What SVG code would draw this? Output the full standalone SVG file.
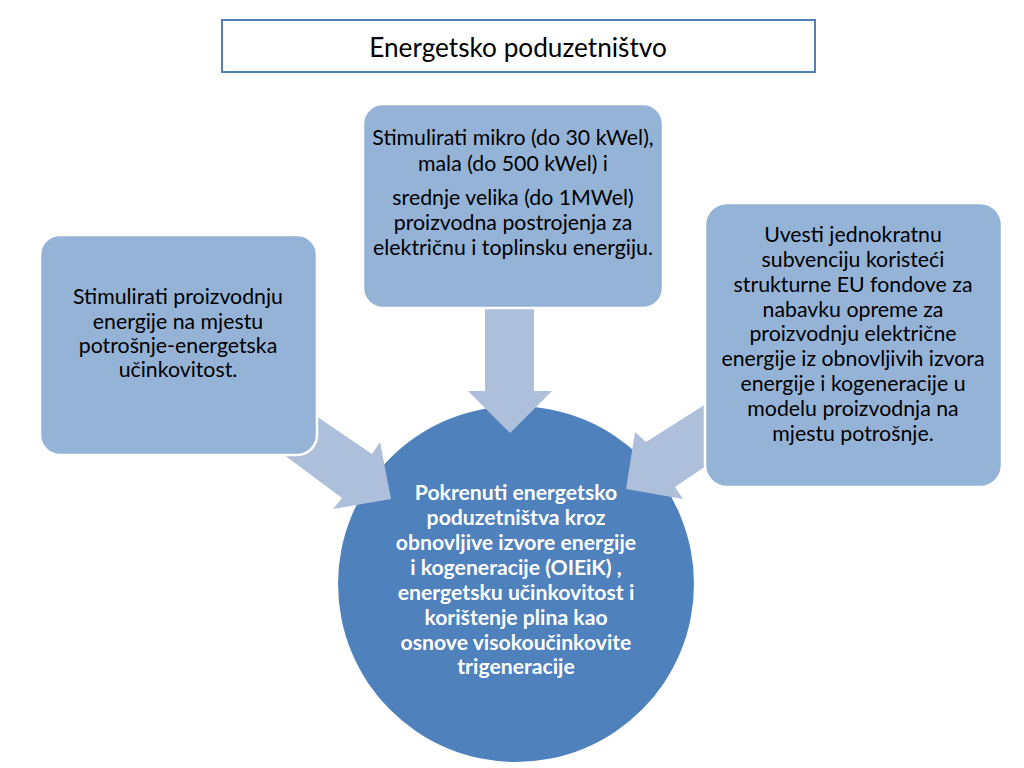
<svg xmlns="http://www.w3.org/2000/svg" width="1024" height="768" viewBox="0 0 1024 768">
<style>
.box{fill:#95B3D7;stroke:#FFFFFF;stroke-width:2.5}
.arr{fill:#AEBFDC}
.t{font-family:Lato,"Liberation Sans",sans-serif;font-size:21.3px;fill:#000;text-anchor:middle}
.c{font-family:Lato,"Liberation Sans",sans-serif;font-size:21.2px;font-weight:bold;fill:#FFFFFF;text-anchor:middle}
</style>
<rect width="1024" height="768" fill="#FFFFFF"/>
<g id="title">
<rect x="222" y="20" width="593" height="52" fill="#FFFFFF" stroke="#4F81BD" stroke-width="2"/>
<text x="518" y="57" font-family="Lato,'Liberation Sans',sans-serif" font-size="26.2" text-anchor="middle" fill="#000">Energetsko poduzetništvo</text>
</g>
<g id="center">
<circle cx="516" cy="584" r="178" fill="#4F81BD"/>
<text class="c" x="516" y="500">Pokrenuti energetsko</text>
<text class="c" x="516" y="525">poduzetništva kroz</text>
<text class="c" x="516" y="550">obnovljive izvore energije</text>
<text class="c" x="516" y="575">i kogeneracije (OIEiK) ,</text>
<text class="c" x="516" y="600">energetsku učinkovitost i</text>
<text class="c" x="516" y="625">korištenje plina kao</text>
<text class="c" x="516" y="650">osnove visokoučinkovite</text>
<text class="c" x="516" y="674">trigeneracije</text>
</g>
<g id="connectors">
<polygon class="arr" points="485,305 534,305 534,391 552,391 510,433 468,391 485,391"/>
<polygon class="arr" points="294,401 372,454 380,442 391,499 333,509 342,498 264,440"/>
<polygon class="arr" points="728,390 646,442 635,432 626,489 683,499 675,487 728,451"/>
</g>
<g id="top">
<rect class="box" x="363" y="104" width="300" height="204" rx="20"/>
<text class="t" x="513" y="145">Stimulirati mikro (do 30 kWel),</text>
<text class="t" x="513" y="170.5">mala (do 500 kWel) i</text>
<text class="t" x="513" y="205">srednje velika (do 1MWel)</text>
<text class="t" x="513" y="230">proizvodna postrojenja za</text>
<text class="t" x="513" y="255">električnu i toplinsku energiju.</text>
</g>
<g id="left">
<rect class="box" x="40" y="235" width="277" height="220" rx="20"/>
<text class="t" x="178" y="304">Stimulirati proizvodnju</text>
<text class="t" x="178" y="329">energije na mjestu</text>
<text class="t" x="178" y="353">potrošnje-energetska</text>
<text class="t" x="178" y="377">učinkovitost.</text>
</g>
<g id="right">
<rect class="box" x="705" y="203" width="297" height="284" rx="22"/>
<text class="t" x="853" y="242">Uvesti jednokratnu</text>
<text class="t" x="853" y="267">subvenciju koristeći</text>
<text class="t" x="853" y="292">strukturne EU fondove za</text>
<text class="t" x="853" y="317">nabavku opreme za</text>
<text class="t" x="853" y="341">proizvodnju električne</text>
<text class="t" x="853" y="366">energije iz obnovljivih izvora</text>
<text class="t" x="853" y="391">energije i kogeneracije u</text>
<text class="t" x="853" y="416">modelu proizvodnja na</text>
<text class="t" x="853" y="441">mjestu potrošnje.</text>
</g>
</svg>
